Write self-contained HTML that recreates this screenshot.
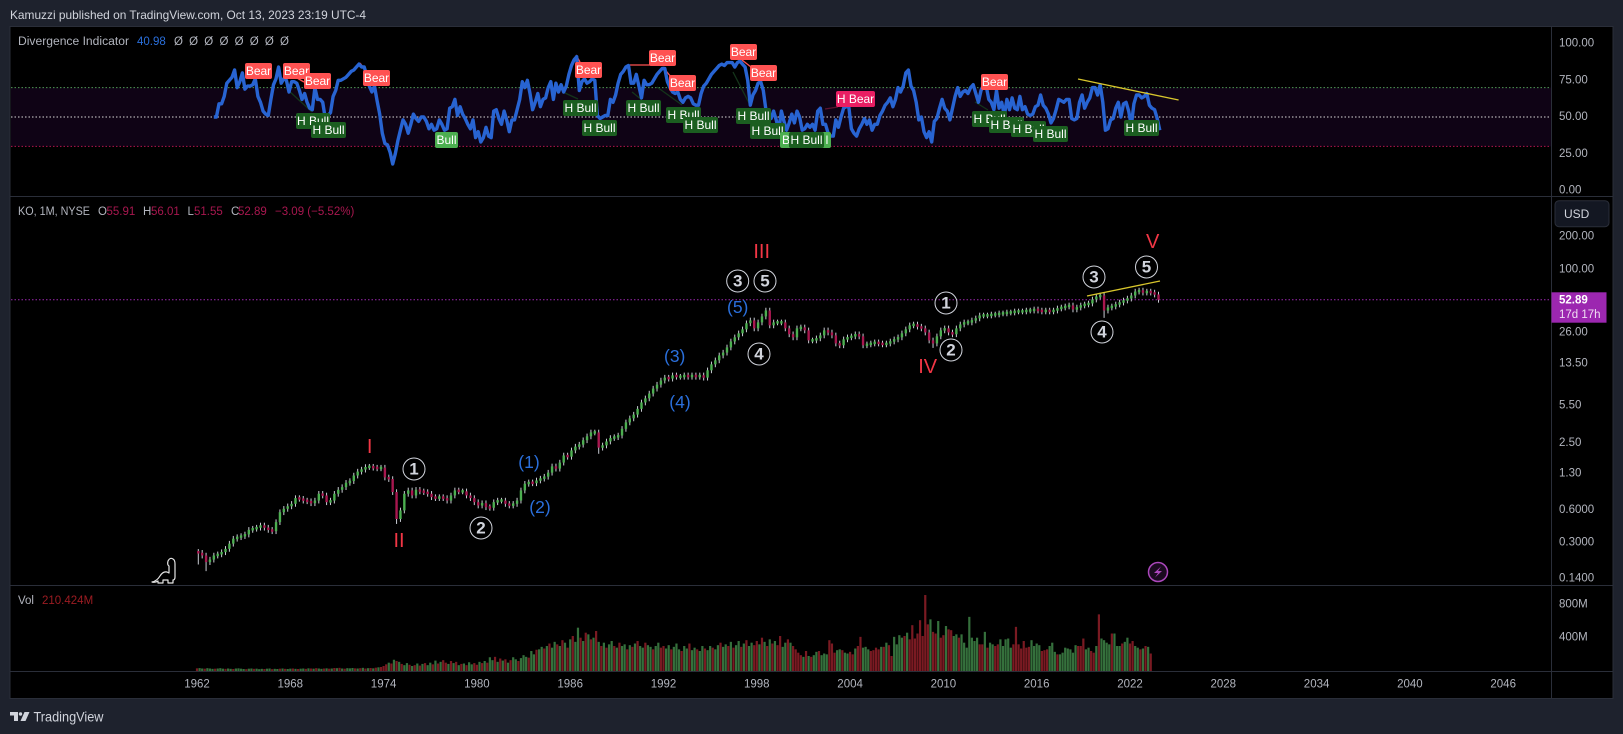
<!DOCTYPE html>
<html lang="en">
<head>
<meta charset="utf-8">
<title>KO 1M chart</title>
<style>
html,body{margin:0;padding:0;background:#1e222d;width:1623px;height:734px;overflow:hidden}
svg{display:block;font-family:"Liberation Sans",sans-serif}
text{dominant-baseline:central}
.tag{font-size:12px;fill:#fff;text-anchor:middle}
.axis{font-size:11.5px;fill:#b2b5be}
.leg{font-size:11.5px;fill:#b2b5be}
.val{font-size:11.5px;fill:#a8174f}
.wave{font-size:17px;fill:#d1d4dc;text-anchor:middle;font-weight:bold}
.blue{font-size:17.5px;fill:#2a6fdb;text-anchor:middle}
.red{font-size:20px;fill:#f23645;text-anchor:middle}
.ring{fill:none;stroke:#d1d4dc;stroke-width:1}
.bear{fill:#ff5252}.hbull{fill:#1b5e20}.bull{fill:#4caf50}.hbear{fill:#e91e63}
</style>
</head>
<body>
<svg id="chart" xmlns="http://www.w3.org/2000/svg" width="1623" height="734" viewBox="0 0 1623 734">
  <rect width="1623" height="734" fill="#1e222d"/>
  <text x="10" y="15" font-size="12" fill="#d1d4dc" textLength="356" lengthAdjust="spacingAndGlyphs">Kamuzzi published on TradingView.com, Oct 13, 2023 23:19 UTC-4</text>

  <rect x="10" y="26.5" width="1603" height="672" fill="#000" stroke="#2a2e39" stroke-width="1"/>
  <rect x="11" y="87.6" width="1540" height="58.8" fill="#0f0315"/>
  <g id="rsiLevels"></g>
  <line x1="1551.5" y1="27" x2="1551.5" y2="698" stroke="#2a2e39"/>
  <line x1="10" y1="196.5" x2="1613" y2="196.5" stroke="#2a2e39"/>
  <line x1="10" y1="585.5" x2="1613" y2="585.5" stroke="#2a2e39"/>
  <line x1="10" y1="671.5" x2="1613" y2="671.5" stroke="#2a2e39"/>

  <g id="divLines" stroke-width="1.3" fill="none">
    <line x1="297" y1="78" x2="304" y2="82" stroke="#ff5252"/>
    <line x1="360" y1="63" x2="366" y2="71" stroke="#ff5252"/>
    <line x1="576" y1="55" x2="580" y2="62" stroke="#ff5252"/>
    <line x1="630" y1="65" x2="650" y2="65" stroke="#ff5252"/>
    <line x1="663" y1="67" x2="671" y2="77" stroke="#ff5252"/>
    <line x1="742" y1="60" x2="751" y2="67" stroke="#ff5252"/>
    <line x1="825" y1="109" x2="838" y2="107" stroke="#5a1430"/>
    <line x1="288" y1="90" x2="312" y2="112" stroke="#14351a"/>
    <line x1="565" y1="93" x2="578" y2="99" stroke="#14351a"/>
    <line x1="632" y1="92" x2="642" y2="100" stroke="#14351a"/>
    <line x1="657" y1="87" x2="682" y2="105" stroke="#14351a"/>
    <line x1="733" y1="72" x2="750" y2="105" stroke="#14351a"/>
    <line x1="975" y1="102" x2="988" y2="110" stroke="#14351a"/>
  </g>
  <g id="rsiPane"></g>

  <g>
    <g><rect class="bear" x="245" y="63" width="27" height="16" rx="2"/><text class="tag" x="258.5" y="71">Bear</text></g>
    <g><rect class="bear" x="283" y="63" width="27" height="16" rx="2"/><text class="tag" x="296.5" y="71">Bear</text></g>
    <g><rect class="bear" x="304" y="73" width="27" height="16" rx="2"/><text class="tag" x="317.5" y="81">Bear</text></g>
    <g><rect class="bear" x="363" y="70" width="27" height="16" rx="2"/><text class="tag" x="376.5" y="78">Bear</text></g>
    <g><rect class="hbull" x="296" y="113" width="34" height="16" rx="2"/><text class="tag" x="313" y="121">H Bull</text></g>
    <g><rect class="hbull" x="311" y="122" width="35" height="16" rx="2"/><text class="tag" x="328.5" y="130">H Bull</text></g>
    <g><rect class="bull" x="435" y="132" width="23" height="16" rx="2"/><text class="tag" x="446.5" y="140">Bull</text></g>
    <g><rect class="hbull" x="563" y="100" width="35" height="16" rx="2"/><text class="tag" x="580.5" y="108">H Bull</text></g>
    <g><rect class="bear" x="575" y="62" width="27" height="16" rx="2"/><text class="tag" x="588.5" y="70">Bear</text></g>
    <g><rect class="hbull" x="582" y="120" width="35" height="16" rx="2"/><text class="tag" x="599.5" y="128">H Bull</text></g>
    <g><rect class="bear" x="649" y="50" width="27" height="16" rx="2"/><text class="tag" x="662.5" y="58">Bear</text></g>
    <g><rect class="bear" x="669" y="75" width="27" height="16" rx="2"/><text class="tag" x="682.5" y="83">Bear</text></g>
    <g><rect class="hbull" x="626" y="100" width="35" height="16" rx="2"/><text class="tag" x="643.5" y="108">H Bull</text></g>
    <g><rect class="hbull" x="666" y="107" width="35" height="16" rx="2"/><text class="tag" x="683.5" y="115">H Bull</text></g>
    <g><rect class="hbull" x="683" y="117" width="35" height="16" rx="2"/><text class="tag" x="700.5" y="125">H Bull</text></g>
    <g><rect class="bear" x="730" y="44" width="27" height="16" rx="2"/><text class="tag" x="743.5" y="52">Bear</text></g>
    <g><rect class="bear" x="750" y="65" width="27" height="16" rx="2"/><text class="tag" x="763.5" y="73">Bear</text></g>
    <g><rect class="hbull" x="736" y="108" width="35" height="16" rx="2"/><text class="tag" x="753.5" y="116">H Bull</text></g>
    <g><rect class="hbull" x="750" y="123" width="35" height="16" rx="2"/><text class="tag" x="767.5" y="131">H Bull</text></g>
    <g><rect class="bull" x="780" y="132" width="51" height="16" rx="2"/><text class="tag" x="786" y="140">B</text><text class="tag" x="827" y="140">l</text></g>
    <g><rect class="hbull" x="789" y="132" width="35" height="16" rx="2"/><text class="tag" x="806.5" y="140">H Bull</text></g>
    <g><rect class="hbear" x="836" y="91" width="39" height="16" rx="2"/><text class="tag" x="855.5" y="99">H Bear</text></g>
    <g><rect class="bear" x="981" y="74" width="27" height="16" rx="2"/><text class="tag" x="994.5" y="82">Bear</text></g>
    <g><rect class="hbull" x="972" y="111" width="35" height="16" rx="2"/><text class="tag" x="989.5" y="119">H Bull</text></g>
    <g><rect class="hbull" x="989" y="117" width="35" height="16" rx="2"/><text class="tag" x="1006.5" y="125">H Bull</text></g>
    <g><rect class="hbull" x="1011" y="121" width="35" height="16" rx="2"/><text class="tag" x="1028.5" y="129">H Bull</text></g>
    <g><rect class="hbull" x="1033" y="126" width="35" height="16" rx="2"/><text class="tag" x="1050.5" y="134">H Bull</text></g>
    <g><rect class="hbull" x="1124" y="120" width="35" height="16" rx="2"/><text class="tag" x="1141.5" y="128">H Bull</text></g>
  </g>
  <line x1="1078" y1="79" x2="1178.6" y2="100" stroke="#d8c62c" stroke-width="1.3"/>

  <g>
    <text class="leg" x="18" y="42" textLength="111" lengthAdjust="spacingAndGlyphs">Divergence Indicator</text>
    <text class="leg" x="137" y="42" style="fill:#2a6fdb">40.98</text>
    <text class="leg" x="174" y="42" textLength="115" lengthAdjust="spacing">Ø Ø Ø Ø Ø Ø Ø Ø</text>
  </g>
  <g>
    <text class="leg" x="18" y="212" textLength="72" lengthAdjust="spacingAndGlyphs">KO, 1M, NYSE</text>
    <text class="leg" x="98" y="212">O</text><text class="val" x="106.5" y="212">55.91</text>
    <text class="leg" x="143" y="212">H</text><text class="val" x="151" y="212">56.01</text>
    <text class="leg" x="187.5" y="212">L</text><text class="val" x="194" y="212">51.55</text>
    <text class="leg" x="231" y="212">C</text><text class="val" x="238" y="212">52.89</text>
    <text class="val" x="275" y="212">−3.09 (−5.52%)</text>
  </g>
  <g>
    <text class="leg" x="18" y="601">Vol</text>
    <text class="val" x="42" y="601" style="fill:#9c1c22">210.424M</text>
  </g>

  <line id="lastLine" x1="11" x2="1551" stroke="#9c27b0" stroke-width="1" stroke-dasharray="1.5 2"/>
  <g id="pricePane"></g>
  <g id="volPane"></g>
  <line x1="1087" y1="296" x2="1160" y2="281" stroke="#d8c62c" stroke-width="1.3"/>

  <g>
    <text class="red" x="369.7" y="447">I</text>
    <text class="red" x="399" y="541">II</text>
    <text class="red" x="761.7" y="252">III</text>
    <text class="red" x="927.7" y="367">IV</text>
    <text class="red" x="1152.7" y="242">V</text>
    <g><circle class="ring" cx="414" cy="469" r="11"/><text class="wave" x="414" y="469">1</text></g>
    <g><circle class="ring" cx="481" cy="528" r="11"/><text class="wave" x="481" y="528">2</text></g>
    <g><circle class="ring" cx="737.7" cy="281" r="11"/><text class="wave" x="737.7" y="281">3</text></g>
    <g><circle class="ring" cx="765" cy="281" r="11"/><text class="wave" x="765" y="281">5</text></g>
    <g><circle class="ring" cx="759" cy="354" r="11"/><text class="wave" x="759" y="354">4</text></g>
    <g><circle class="ring" cx="946" cy="303" r="11"/><text class="wave" x="946" y="303">1</text></g>
    <g><circle class="ring" cx="951" cy="350" r="11"/><text class="wave" x="951" y="350">2</text></g>
    <g><circle class="ring" cx="1094" cy="277" r="11"/><text class="wave" x="1094" y="277">3</text></g>
    <g><circle class="ring" cx="1102" cy="332" r="11"/><text class="wave" x="1102" y="332">4</text></g>
    <g><circle class="ring" cx="1146.5" cy="267" r="11"/><text class="wave" x="1146.5" y="267">5</text></g>
    <text class="blue" x="529" y="462">(1)</text>
    <text class="blue" x="540" y="507">(2)</text>
    <text class="blue" x="674.7" y="356">(3)</text>
    <text class="blue" x="680" y="402">(4)</text>
    <text class="blue" x="737.7" y="307">(5)</text>
  </g>

  <g id="priceAxis"></g>
  <g id="timeAxis"></g>

  <g>
    <rect x="1555" y="200.7" width="54" height="26" rx="4" fill="#131722" stroke="#2a2e39"/>
    <text x="1564" y="214" font-size="12" fill="#d1d4dc">USD</text>
  </g>
  <g>
    <rect x="1551.5" y="292.3" width="55" height="30.4" fill="#9c27b0"/>
    <text x="1559" y="300.5" font-size="11.5" font-weight="bold" fill="#fff">52.89</text>
    <text x="1559" y="315" font-size="11.5" fill="#f0dff3">17d 17h</text>
  </g>

  <path d="M152 582 Q157 581 160 576 Q163 571 167 572 L169 573 L169 566 Q167 565 168 561 Q170 557 173 559 Q175 560 175 564 L175 577 Q175 580 173 580 L173 583 L168 583 L168 580 L163 580 L163 583 L158 583 L158 581 Q155 583 152 582 Z" fill="none" stroke="#e6e6e6" stroke-width="1.2" stroke-linejoin="round"/>
  <g>
    <circle cx="1158" cy="572" r="9.5" fill="#1a0a1f" stroke="#ab47bc" stroke-width="1.5"/>
    <path d="M1161 566.5 L1154 573 L1158 573 L1155 577.5 L1162 571 L1158 571 Z" fill="#ab47bc"/>
  </g>

  <g>
    <path d="M10 712 H18 V721 H14 V715.5 H10 Z" fill="#d1d4dc"/>
    <circle cx="20.5" cy="714" r="1.7" fill="#d1d4dc"/>
    <path d="M24.5 712 H29.5 L25.5 721 H20.5 Z" fill="#d1d4dc"/>
    <text x="33.5" y="717" font-size="13.5" fill="#d1d4dc" textLength="70" lengthAdjust="spacingAndGlyphs">TradingView</text>
  </g>
</svg>
<script>
// ---- chart data ----
var rsiLevelValues = [70, 50, 30];
var rsiTickLabels = ["100.00", "75.00", "50.00", "25.00", "0.00"];
var rsiTickValues = [100, 75, 50, 25, 0];
var priceTickValues = [200, 100, 26, 13.5, 5.5, 2.5, 1.3, 0.6, 0.3, 0.14];
var priceTickLabels = ["200.00", "100.00", "26.00", "13.50", "5.50", "2.50", "1.30", "0.6000", "0.3000", "0.1400"];
var volumeTickValues = [800, 400];
var volumeTickLabels = ["800M", "400M"];
var yearTicks = [1962, 1968, 1974, 1980, 1986, 1992, 1998, 2004, 2010, 2016, 2022, 2028, 2034, 2040, 2046];
var lastClose = 52.89;
var firstYear = 1962;
var rsiFirstMonth = 13;
var rsiMonthsPerPoint = 2;
var candleMonths = 3;
var volumeMonthsPerBar = 2;
// divergence indicator, one reading every two months
var rsiValues = [
50,50,59,59,64,73,75,77,82,70,74,80,69,71,71,72,76,64,60,54,52,51,62,72,76,84,73,76,75,67,
74,74,73,68,62,66,60,56,55,70,62,62,60,49,51,53,64,68,75,75,76,77,79,81,82,84,86,84,84,78,
71,67,71,61,52,39,32,31,26,18,
25,34,41,48,45,39,45,52,49,47,50,50,47,42,45,41,42,48,45,41,42,56,57,62,51,57,52,49,45,42,48,
36,40,33,36,43,37,36,54,55,49,45,54,48,40,48,48,55,62,74,70,75,66,55,60,66,57,62,63,70,74,62,
73,67,72,67,71,79,85,89,91,68,74,
76,73,74,76,75,51,49,50,51,51,62,60,65,73,79,81,84,85,73,73,79,71,63,75,72,72,73,76,79,81,83,83,
74,70,67,66,67,62,60,63,64,63,59,58,58,66,71,73,76,79,81,83,85,86,85,87,87,87,84,87,88,86,84,75,
58,65,68,73,74,68,55,51,49,
54,48,41,54,47,41,46,52,46,54,50,41,42,45,43,45,41,54,56,45,45,39,37,37,48,43,50,56,57,57,
42,39,37,42,45,49,45,48,41,45,45,51,54,58,60,63,57,62,70,67,71,80,82,71,68,60,48,50,40,36,40,33,47,
49,56,62,56,54,48,56,64,70,64,67,68,66,
70,72,66,60,68,72,71,62,60,55,68,56,60,51,62,55,63,56,55,64,55,57,52,51,52,57,58,65,58,56,
52,46,49,55,62,61,60,62,62,49,48,49,60,65,56,60,63,70,70,65,72,60,41,42,48,49,56,60,50,59,60,54,44,
59,65,65,63,64,66,58,56,55,49,41
];
// month-end closes sampled each quarter from 1962
var closes = [
.244,.23,.2,.211,.23,.236,.247,.265,.296,.329,.34,.348,.36,.397,.407,.416,.436,.416,.397,.386,
.468,.578,.621,.655,.69,.78,.769,.74,.73,.7,.74,.855,.825,.715,.74,.855,.93,.985,1.08,1.12,
1.26,1.37,1.43,1.51,1.52,1.49,1.47,1.49,1.21,1.17,.887,.5,.6,.855,.918,.825,.93,.9,.887,.855,
.796,.78,.796,.78,.74,.825,.918,.9,.9,.825,.78,.715,
.667,.7,.643,.635,.715,.74,.74,.69,.667,.69,.74,.918,1.058,1.09,1.07,1.135,
1.18,1.23,1.34,1.53,1.46,1.66,1.93,1.88,2.15,2.33,2.43,2.67,2.9,3.15,3.15,2.28,2.39,2.6,2.8,2.85,
2.95,3.4,3.9,4.25,4.6,5.2,5.96,6.5,7.2,8.0,8.7,9.5,10.1,9.9,10.6,10.3,10.3,10.6,10.3,10.6,
10.3,10.6,10.1,11.8,13.4,14.6,16.2,17.2,19.2,21.8,23.8,25.9,28.2,32.1,34.1,28.8,32.7,37.1,42.1,30.7,
32.7,32.7,32.7,28.8,25.4,23.8,28.8,29.4,27.6,22.3,22.3,23.3,24.8,27.6,26.4,24.8,20.9,20.1,22.8,23.8,
24.3,25.4,24.3,20.1,20.5,20.9,21.4,20.9,20.5,20.9,21.8,22.8,23.8,25.9,28.2,30.7,31.3,29.9,28.8,26.4,
22.3,20.9,24.3,27.6,28.8,26.4,25.4,28.8,31.3,32.7,32.7,34.1,35.6,37.9,37.9,37.9,38.7,38.7,39.6,39.6,
40.4,40.4,41.3,41.3,41.3,42.1,42.1,43.1,42.1,41.3,42.1,41.3,42.1,44,44.9,45.9,46.9,43.1,44.9,46.9,
47.9,48.9,53.2,56.7,57.9,42.1,44.9,45.9,47.9,49.9,52.1,54.3,57.9,63,64.4,61.7,63,61.7,59.2,52.89
];
var wickPercent = 6;
// candles whose low reaches far below the close: candle index and low price
var crashCandleIndex = [0, 2, 51, 103, 189, 233];
var crashLows = [.19, .165, .45, 2.0, 19, 36];
// volume in millions, negative = down month (red), one bar per two months
var volumeM = [
-32,35,30,-28,34,30,26,-28,30,34,28,-26,30,26,-24,30,32,28,24,-22,28,30,-26,28,22,26,-24,28,30,-22,
26,24,-28,30,-26,24,28,-30,26,-24,28,30,-26,32,-30,28,-34,30,26,-30,32,-28,30,-36,34,-38,30,-28,34,32,
36,-32,30,-34,38,-30,34,-36,32,-40,44,-48,
-60,-80,100,-90,135,-120,110,-85,70,95,-75,60,-70,90,-65,85,-95,70,100,-80,125,-90,110,-130,
-100,85,-120,95,-110,70,-85,90,-70,105,80,-95,
-75,110,-95,120,-100,165,130,-170,110,-150,125,-140,100,-130,165,140,-120,155,190,170,-160,240,200,-255,
260,290,-270,300,-330,280,350,-320,300,-370,340,-280,380,-420,350,520,-400,360,-460,440,-380,400,-480,350,
-300,340,-280,320,360,-300,280,-340,300,320,-260,310,
-290,330,-360,300,280,-340,310,290,-260,300,340,-280,-300,270,310,-260,290,330,260,-240,300,270,-330,250,
280,-260,240,300,-270,250,300,-280,260,310,-340,290,320,-300,350,-280,310,360,-290,330,-370,300,340,-310,
-360,320,-400,350,-300,380,-330,360,-310,-420,290,340,
-380,340,-300,-260,-220,
-190,170,-240,180,-170,190,230,-240,190,210,200,-370,-330,-220,250,260,-250,220,210,-230,-200,270,-300,-410,
280,290,260,-240,-250,-280,-260,290,-290,340,-310,-180,410,320,430,400,-420,460,-380,-550,-390,-450,-610,-420,
-912,-560,620,-470,-450,600,-400,-430,540,-500,-490,420,440,-400,440,340,280,650,400,360,400,-320,-320,470,
-280,340,320,-300,-320,380,300,380,390,280,-320,-530,-320,-270,-360,-280,-290,370,300,330,310,-240,-250,-260,
300,340,230,-200,200,220,280,270,260,220,310,-300,-300,-390,260,280,-240,-220,300,-680,390,370,340,320,
-450,450,300,300,-330,350,400,-330,-360,300,280,-260,270,-300,290,-210
];

// ---- axis functions ----
var NS = 'http://www.w3.org/2000/svg';
function xMonth(m) { return 197 + m * (15.55 / 12); }
function xYear(year) { return xMonth((year - firstYear) * 12); }
function yRsi(v) { return 190.5 - v * 1.47; }
function yPrice(p) { return 269.8 - 32.6 * Math.log2(p / 100); }
function yVolume(v) { return 671 - v * 0.0833; }

function node(tag, attrs, parent) {
  var el = document.createElementNS(NS, tag);
  for (var k in attrs) { el.setAttribute(k, attrs[k]); }
  parent.appendChild(el);
  return el;
}

// RSI levels
var levelGroup = document.getElementById('rsiLevels');
var levelColours = ['#4f9a55', '#d8d8d8', '#b0144f'];
rsiLevelValues.forEach(function (v, i) {
  var el = node('line', { x1: 11, x2: 1551, y1: yRsi(v), y2: yRsi(v), stroke: levelColours[i], 'stroke-width': 1, 'stroke-dasharray': '1.5 2' }, levelGroup);
  
  
});

// RSI line
var rsiGroup = document.getElementById('rsiPane');
var rsiPts = rsiValues.map(function (v, i) {
  return xMonth(rsiFirstMonth + i * rsiMonthsPerPoint).toFixed(1) + ',' + yRsi(v).toFixed(1);
}).join(' ');
var rsiLine = node('polyline', { points: rsiPts, fill: 'none', stroke: '#2864d2', 'stroke-width': 3.4, 'stroke-linejoin': 'round' }, rsiGroup);



// last price line
var lastLine = document.getElementById('lastLine');
lastLine.setAttribute('y1', yPrice(lastClose));
lastLine.setAttribute('y2', yPrice(lastClose));

// candles
var priceGroup = document.getElementById('pricePane');
closes.forEach(function (c, i) {
  var open = i === 0 ? c * 1.02 : closes[i - 1];
  var x = xMonth(i * candleMonths + 1);
  var top = Math.max(open, c) * (1 + wickPercent / 100);
  var low = Math.min(open, c) * (1 - wickPercent / 100);
  var crash = crashCandleIndex.indexOf(i);
  if (crash >= 0) { low = crashLows[crash]; }
  var wick = node('line', { x1: x, x2: x, y1: yPrice(top), y2: yPrice(low), stroke: '#c9ccd4', 'stroke-width': 1 }, priceGroup);
  
  
  var y1 = yPrice(open);
  var y2 = yPrice(c);
  if (Math.abs(y1 - y2) < 2.5) { var mid = (y1 + y2) / 2; y1 = mid - 1.25; y2 = mid + 1.25; }
  var body = node('line', { x1: x, x2: x, y1: y1, y2: y2, stroke: c >= open ? '#4caf50' : '#a8174f', 'stroke-width': 2.4 }, priceGroup);
  
  
});

// volume bars
var volGroup = document.getElementById('volPane');
volumeM.forEach(function (v, i) {
  var x = xMonth(i * volumeMonthsPerBar);
  var size = Math.abs(v);
  var bar = node('rect', { x: x - 1.1, width: 2.2, y: yVolume(size), height: 671 - yVolume(size), fill: v < 0 ? '#7a1a22' : '#35703c' }, volGroup);
  
  
});

// price axis labels
var priceAxis = document.getElementById('priceAxis');
function axisLabel(x, y, str, parent, anchor) {
  var t = node('text', { x: x, y: y, 'class': 'axis', 'text-anchor': anchor }, parent);
  t.textContent = str;
  return t;
}
rsiTickValues.forEach(function (v, i) {
  var t = axisLabel(1559, yRsi(v), rsiTickLabels[i], priceAxis, 'start');
  
  
});
priceTickValues.forEach(function (v, i) {
  var t = axisLabel(1559, yPrice(v) - 0.5, priceTickLabels[i], priceAxis, 'start');
  
  
});
volumeTickValues.forEach(function (v, i) {
  var t = axisLabel(1559, yVolume(v), volumeTickLabels[i], priceAxis, 'start');
  
  
});

// time axis labels
var timeAxis = document.getElementById('timeAxis');
yearTicks.forEach(function (yr) {
  var t = axisLabel(xYear(yr), 684.5, String(yr), timeAxis, 'middle');
  
  
});
</script>
</body>
</html>
